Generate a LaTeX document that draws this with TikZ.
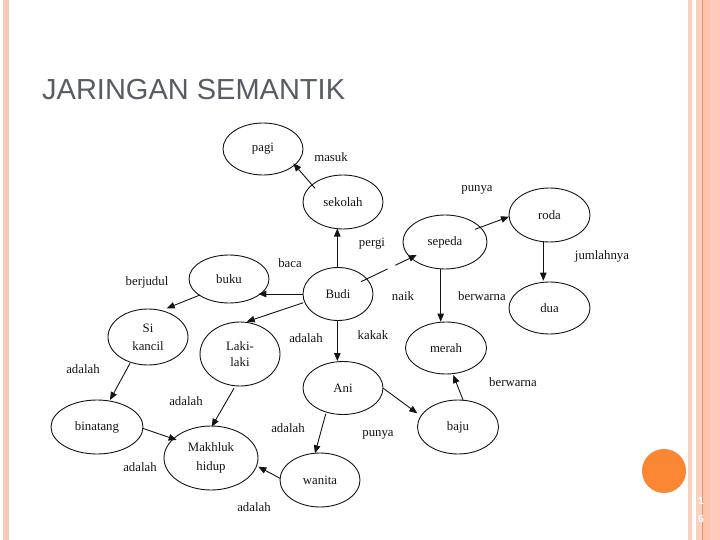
\documentclass[tikz,border=0pt]{standalone}
\usepackage{fontspec}
\setmainfont{Liberation Serif}
\newfontfamily\titlefont{Liberation Sans}
\newfontfamily\numfont{Liberation Sans}
\usetikzlibrary{arrows.meta,calc,shapes.geometric}
\definecolor{peachA}{RGB}{248,201,180}
\definecolor{peachB}{RGB}{250,207,190}
\definecolor{peachC}{RGB}{251,208,191}
\definecolor{peachD}{RGB}{252,195,170}
\definecolor{peachE}{RGB}{253,202,187}
\definecolor{peachLine}{RGB}{226,150,112}
\definecolor{dotorange}{RGB}{250,134,52}
\definecolor{titlegray}{RGB}{88,92,100}
\definecolor{ink}{RGB}{20,20,20}
\tikzset{
  ell/.style={ellipse, draw=ink, line width=0.9pt, inner sep=0pt, align=center,
    text=ink, font=\fontsize{12.8}{17}\selectfont},
  arr/.style={-{Triangle[length=8pt,width=6.5pt]}, line width=0.9pt, draw=ink},
  lbl/.style={text=ink, font=\fontsize{12.8}{15}\selectfont, inner sep=0pt}
}
\begin{document}
\begin{tikzpicture}[x=1pt,y=-1pt]
\useasboundingbox (0,0) rectangle (720,540);
\fill[white] (0,0) rectangle (720,540);
% side stripes
\fill[peachA] (3,0) rectangle (9,540);
\fill[peachB] (688,0) rectangle (692,540);
\fill[peachC] (696,0) rectangle (702,540);
\fill[peachD] (702,0) rectangle (710,540);
\fill[peachE] (710,0) rectangle (720,540);
\fill[peachLine] (702,0) rectangle (703,540);
% title
\node[anchor=base west, inner sep=0pt, text=titlegray, font=\titlefont\fontsize{29}{32}\selectfont] (title) at (42,100) {JARINGAN SEMANTIK};
% orange dot and page number
\fill[dotorange] (664,471) circle (22);
\node[text=white, font=\numfont\bfseries\fontsize{10.5}{12}\selectfont, inner sep=0pt] (pg1) at (701,501) {1};
\node[text=white, font=\numfont\bfseries\fontsize{10.5}{12}\selectfont, inner sep=0pt] (pg6) at (701,519) {6};

% nodes
\node[ell, minimum width=80pt, minimum height=52pt] (pagi) at (263,149) {pagi};
\node[ell, minimum width=80pt, minimum height=54pt] (sekolah) at (343,202) {sekolah};
\node[ell, minimum width=70pt, minimum height=53pt] (Budi) at (338,294) {Budi};
\node[ell, minimum width=80pt, minimum height=48pt] (buku) at (229,279) {buku};
\node[ell, minimum width=80pt, minimum height=56pt, font=\fontsize{12.8}{18}\selectfont] (kancil) at (148,337) {Si\\kancil};
\node[ell, minimum width=80pt, minimum height=64pt, font=\fontsize{12.8}{15.5}\selectfont] (laki) at (240,354) {Laki-\\laki};
\node[ell, minimum width=92pt, minimum height=54pt] (binatang) at (97,427) {binatang};
\node[ell, minimum width=94pt, minimum height=64pt, font=\fontsize{12.8}{19}\selectfont] (makhluk) at (211,458) {Makhluk\\hidup};
\node[ell, minimum width=80pt, minimum height=54pt] (wanita) at (320,480) {wanita};
\node[ell, minimum width=80pt, minimum height=53pt] (Ani) at (343,388) {Ani};
\node[ell, minimum width=81pt, minimum height=52pt] (merah) at (446,348) {merah};
\node[ell, minimum width=81pt, minimum height=54pt] (baju) at (458,427) {baju};
\node[ell, minimum width=84pt, minimum height=54pt] (sepeda) at (445,242) {sepeda};
\node[ell, minimum width=81pt, minimum height=54pt] (roda) at (549.5,215) {roda};
\node[ell, minimum width=81pt, minimum height=52pt] (dua) at (549.5,308) {dua};

% connectors
\draw[arr] ($(sekolah)+(-28,-13.7)$) -- ($(pagi)+(30.3,14.3)$);
\draw[arr] ($(Budi)+(-0.7,-26)$) -- ($(sekolah)+(-5.7,26.5)$);
\draw[arr] ($(Budi)+(-35.3,0)$) -- ($(buku)+(29.3,15)$);
\draw[arr, dash pattern=on 29.5pt off 8.5pt on 80pt] ($(Budi)+(23,-12.3)$) -- ($(sepeda)+(-28.3,13)$);
\draw[arr] ($(Budi)+(-34.7,8.7)$) -- ($(laki)+(6.7,-32.3)$);
\draw[arr] ($(buku)+(-29,16)$) -- ($(kancil)+(18.7,-28.7)$);
\draw[arr] ($(kancil)+(-18,26.3)$) -- ($(binatang)+(13,-27)$);
\draw[arr] ($(laki)+(-6,34.3)$) -- ($(makhluk)+(0.7,-31.3)$);
\draw[arr] ($(binatang)+(45.7,1.3)$) -- ($(makhluk)+(-34.3,-18)$);
\draw[arr] ($(wanita)+(-40,-1.7)$) -- ($(makhluk)+(47.3,8.7)$);
\draw[arr] ($(Ani)+(-17.3,26)$) -- ($(wanita)+(-5,-26.7)$);
\draw[arr] ($(Budi)+(-0.7,26.7)$) -- ($(Ani)+(-5.7,-27)$);
\draw[arr] ($(Ani)+(40.3,0.3)$) -- ($(baju)+(-40.7,-13.7)$);
\draw[arr] ($(baju)+(5.3,-26.3)$) -- ($(merah)+(7.3,27)$);
\draw[arr] ($(sepeda)+(-4.3,26.5)$) -- ($(merah)+(-5.3,-26.3)$);
\draw[arr] ($(sepeda)+(30,-12.7)$) -- ($(roda)+(-40.5,1.7)$);
\draw[arr] ($(roda)+(-6.2,26.7)$) -- ($(dua)+(-6.2,-27.3)$);

% labels
\node[lbl] (lmasuk) at (331,157) {masuk};
\node[lbl] (lpergi) at (372,244) {pergi};
\node[lbl] (lbaca) at (290,263) {baca};
\node[lbl] (lnaik) at (403,296) {naik};
\node[lbl] (lpunya1) at (477,190) {punya};
\node[lbl] (ljumlah) at (602,256) {jumlahnya};
\node[lbl] (lberwarna1) at (482,296) {berwarna};
\node[lbl] (lberjudul) at (147,282) {berjudul};
\node[lbl] (ladalah1) at (83,369) {adalah};
\node[lbl] (ladalah2) at (306,338) {adalah};
\node[lbl] (ladalah3) at (186,401) {adalah};
\node[lbl] (ladalah4) at (288,428) {adalah};
\node[lbl] (ladalah5) at (140,467) {adalah};
\node[lbl] (ladalah6) at (254,507) {adalah};
\node[lbl] (lkakak) at (373,335) {kakak};
\node[lbl] (lpunya2) at (378,435) {punya};
\node[lbl] (lberwarna2) at (513,382) {berwarna};
\end{tikzpicture}
\end{document}
